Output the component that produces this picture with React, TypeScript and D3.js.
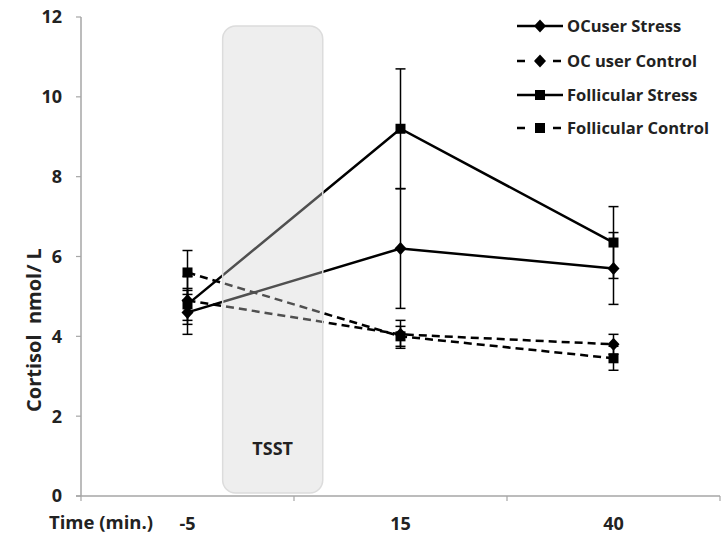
import React, { useEffect, useRef } from "react";
import * as d3 from "d3";

// time points (min) relative to the TSST
const timepoints = ["-5", "15", "40"];

// cortisol means (nmol/L) and error bars
const ocStress = [4.6, 6.2, 5.7];
const ocStressErr = [0.55, 1.5, 0.9];
const ocControl = [4.9, 4.05, 3.8];
const ocControlErr = [0.6, 0.35, 0.25];
const follStress = [4.8, 9.2, 6.35];
const follStressErr = [0.4, 1.5, 0.9];
const follControl = [5.6, 4.0, 3.45];
const follControlErr = [0.55, 0.25, 0.3];

const yTicks = [0, 2, 4, 6, 8, 10, 12];

const seriesNames = ["OCuser Stress", "OC user Control", "Follicular Stress", "Follicular Control"];

const FONT = "'Open Sans', 'DejaVu Sans', sans-serif";

function App() {
    const svgRef = useRef<SVGSVGElement>(null);

    useEffect(() => {
        document.body.style.margin = "0";

        const svg = d3.select(svgRef.current);
        svg.selectAll("*").remove();

        const xScale = d3.scaleBand().domain(timepoints).range([81, 720]);
        const yScale = d3.scaleLinear().domain([0, 12]).range([496, 17]);
        const bw = xScale.bandwidth();
        const cx = (t: string) => (xScale(t) as number) + bw / 2;

        const series = [
            { name: seriesNames[0], values: ocStress, err: ocStressErr, dashed: false, marker: "diamond" },
            { name: seriesNames[1], values: ocControl, err: ocControlErr, dashed: true, marker: "diamond" },
            { name: seriesNames[2], values: follStress, err: follStressErr, dashed: false, marker: "square" },
            { name: seriesNames[3], values: follControl, err: follControlErr, dashed: true, marker: "square" },
        ];

        // axes
        const axisColor = "#a6a6a6";
        svg.append("line")
            .attr("x1", 81).attr("x2", 81)
            .attr("y1", yScale(12)).attr("y2", yScale(0))
            .attr("stroke", axisColor).attr("stroke-width", 1.5);
        svg.append("line")
            .attr("x1", 76).attr("x2", 720)
            .attr("y1", yScale(0)).attr("y2", yScale(0))
            .attr("stroke", axisColor).attr("stroke-width", 1.5);

        svg.selectAll(".ytick")
            .data(yTicks)
            .join("line")
            .attr("class", "ytick")
            .attr("x1", 76).attr("x2", 81)
            .attr("y1", d => yScale(d)).attr("y2", d => yScale(d))
            .attr("stroke", axisColor).attr("stroke-width", 1.2);

        svg.selectAll(".ylabel")
            .data(yTicks)
            .join("text")
            .attr("class", "ylabel")
            .attr("x", 62)
            .attr("y", d => yScale(d))
            .attr("dy", "0.36em")
            .attr("text-anchor", "end")
            .style("font-family", FONT)
            .style("font-weight", "bold")
            .style("font-size", "18px")
            .style("fill", "#222")
            .text(d => d);

        const xTickPos = [81, ...timepoints.map(t => (xScale(t) as number) + bw)];
        svg.selectAll(".xtick")
            .data(xTickPos)
            .join("line")
            .attr("class", "xtick")
            .attr("x1", d => d).attr("x2", d => d)
            .attr("y1", yScale(0)).attr("y2", yScale(0) + 5)
            .attr("stroke", axisColor).attr("stroke-width", 1.2);

        svg.selectAll(".xlabel")
            .data(timepoints)
            .join("text")
            .attr("class", "xlabel")
            .attr("x", d => cx(d))
            .attr("y", 530)
            .attr("text-anchor", "middle")
            .style("font-family", FONT)
            .style("font-weight", "bold")
            .style("font-size", "18px")
            .style("fill", "#222")
            .text(d => d);

        svg.append("text")
            .attr("x", 153)
            .attr("y", 529)
            .attr("text-anchor", "end")
            .style("font-family", FONT)
            .style("font-weight", "bold")
            .style("font-size", "18.5px")
            .style("fill", "#222")
            .text("Time (min.)");

        svg.append("text")
            .attr("transform", `translate(41,${330}) rotate(-90)`)
            .attr("text-anchor", "middle")
            .style("font-family", FONT)
            .style("font-weight", "bold")
            .style("font-size", "20px")
            .style("fill", "#222")
            .style("white-space", "pre")
            .text("Cortisol  nmol/ L");

        const line = d3.line<number>()
            .x((d, i) => cx(timepoints[i]))
            .y(d => yScale(d));

        const drawMarker = (g: any, kind: string, x: number, y: number) => {
            if (kind === "diamond") {
                g.append("path")
                    .attr("d", "M0,-6.5L6,0L0,6.5L-6,0Z")
                    .attr("transform", `translate(${x},${y})`)
                    .attr("fill", "#000");
            } else {
                g.append("rect")
                    .attr("x", x - 5).attr("y", y - 5)
                    .attr("width", 10).attr("height", 10)
                    .attr("fill", "#000");
            }
        };

        const plot = svg.append("g");
        series.forEach(s => {
            plot.append("path")
                .datum(s.values)
                .attr("d", line)
                .attr("fill", "none")
                .attr("stroke", "#000")
                .attr("stroke-width", 2.5)
                .attr("stroke-dasharray", s.dashed ? "8,5" : null);

            s.values.forEach((v, i) => {
                const x = cx(timepoints[i]);
                const hi = yScale(v + s.err[i]);
                const lo = yScale(v - s.err[i]);
                plot.append("line")
                    .attr("x1", x).attr("x2", x).attr("y1", hi).attr("y2", lo)
                    .attr("stroke", "#000").attr("stroke-width", 1.5);
                [hi, lo].forEach(yy => {
                    plot.append("line")
                        .attr("x1", x - 5).attr("x2", x + 5).attr("y1", yy).attr("y2", yy)
                        .attr("stroke", "#000").attr("stroke-width", 1.5);
                });
                drawMarker(plot, s.marker, x, yScale(v));
            });
        });

        // TSST period box, drawn over the lines
        const boxLeft = (xScale("-5") as number) + bw * 0.665;
        const boxRight = (xScale("15") as number) + bw * 0.135;
        svg.append("rect")
            .attr("x", boxLeft)
            .attr("y", 26)
            .attr("width", boxRight - boxLeft)
            .attr("height", 467)
            .attr("rx", 13)
            .attr("fill", "#d2d2d2")
            .attr("fill-opacity", 0.38)
            .attr("stroke", "#dcdcdc")
            .attr("stroke-width", 1.5);

        svg.append("text")
            .attr("x", (boxLeft + boxRight) / 2)
            .attr("y", 455)
            .attr("text-anchor", "middle")
            .style("font-family", FONT)
            .style("font-weight", "bold")
            .style("font-size", "18px")
            .style("fill", "#222")
            .text("TSST");

        // legend
        const legend = svg.append("g");
        const legendY = [26, 61, 95, 128];
        series.forEach((s, i) => {
            const y = legendY[i];
            legend.append("line")
                .attr("x1", 517).attr("x2", 563)
                .attr("y1", y).attr("y2", y)
                .attr("stroke", "#000")
                .attr("stroke-width", 2.5)
                .attr("stroke-dasharray", s.dashed ? "8,10" : null);
            drawMarker(legend, s.marker, 540, y);
            legend.append("text")
                .attr("x", 567)
                .attr("y", y)
                .attr("dy", "0.36em")
                .style("font-family", FONT)
                .style("font-weight", "bold")
                .style("font-size", "16.5px")
                .style("fill", "#222")
                .text(s.name);
        });
    }, []);

    return (
        <svg ref={svgRef} width={721} height={536} style={{ display: "block", background: "#fff" }} />
    );
}

export default App;
